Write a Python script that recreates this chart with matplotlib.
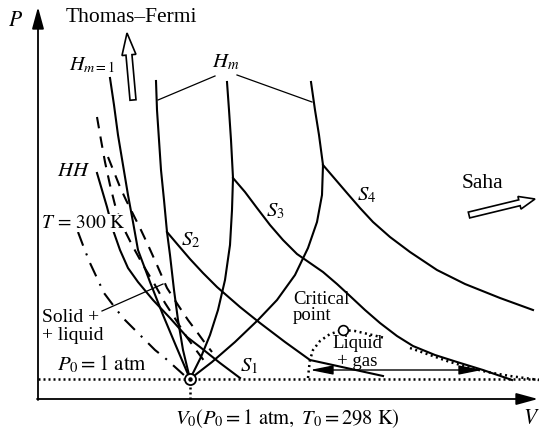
import numpy as np
import matplotlib
matplotlib.use("Agg")
import matplotlib.pyplot as plt
from matplotlib.patches import FancyArrow, ArrowStyle

plt.rcParams['font.family'] = ['Liberation Serif', 'DejaVu Serif']
plt.rcParams['mathtext.fontset'] = 'stix'

# ---- schematic data (V, P in arbitrary units) ----
V0, P0 = 152, 20

h_m1_V = [72, 76, 80, 85, 90, 95, 100, 112, 125, 138, 152]
h_m1_P = [321, 294, 264, 234, 204, 177, 149, 117, 84, 53, 20]

hh_V = [59, 64, 69, 75, 82, 90, 100, 115, 132, 149, 162, 182, 202]
hh_P = [226, 209, 192, 169, 149, 131, 117, 99, 81, 62, 52, 36, 21]

melt_left_V = [59, 63, 67, 72, 77, 84, 94, 105, 117, 127, 138, 148, 158, 167]
melt_left_P = [282, 259, 237, 214, 194, 174, 154, 134, 114, 96, 79, 63, 49, 37]
melt_right_V = [70, 76, 82, 88, 94, 102, 110, 119, 129, 140, 150, 159, 167, 174]
melt_right_P = [242, 227, 212, 199, 187, 171, 154, 134, 111, 94, 79, 67, 56, 47]

iso300_V = [40, 46, 52, 59, 66, 75, 85, 95, 107, 117, 127, 137, 147]
iso300_P = [167, 151, 136, 121, 106, 94, 81, 71, 59, 49, 41, 32, 23]

hm2_V = [118, 119, 121, 123, 126, 129, 132, 136, 140, 145, 152]
hm2_P = [318, 289, 259, 229, 199, 167, 144, 109, 79, 49, 20]

hm3_V = [189, 191, 193, 195, 194, 192, 187, 180, 172, 163, 152]
hm3_P = [317, 289, 259, 221, 189, 154, 119, 89, 64, 42, 20]

hm4_V = [273, 277, 281, 285, 284, 279, 270, 257, 239, 220, 197, 174, 152]
hm4_P = [317, 289, 264, 234, 204, 177, 151, 124, 99, 79, 57, 37, 20]

s2_V = [129, 140, 152, 165, 179, 202, 222, 247, 272, 345]
s2_P = [167, 154, 140, 126, 112, 92, 76, 57, 39, 23]

s3_V = [195, 207, 219, 232, 245, 259, 272, 285, 299, 312, 327, 342, 359, 375, 397, 419, 445, 474]
s3_P = [221, 207, 191, 174, 159, 145, 136, 127, 115, 103, 89, 76, 63, 53, 44, 37, 29, 19]

s4_V = [285, 297, 309, 322, 335, 352, 372, 399, 427, 462, 495]
s4_P = [234, 220, 206, 191, 177, 162, 147, 129, 115, 101, 89]

dome_V = [270, 271, 272, 275, 282, 292, 305, 317, 330, 347]
dome_P = [21, 31, 39, 49, 58, 65, 69, 68, 65, 61]
binodal_right_V = [372, 392, 409, 429, 449, 472, 501]
binodal_right_P = [51, 44, 38, 32, 27, 23, 19]
crit_V, crit_P = 305, 69

fig = plt.figure(figsize=(5.39, 4.32), dpi=100)
ax = fig.add_axes([0, 0, 1, 1])
ax.set_xlim(-38, 501)
ax.set_ylim(-33, 399)
ax.axis('off')

lw = 1.5
k = 'black'
# axes arrows
ax.annotate('', xy=(0, 392), xytext=(0, -1),
            arrowprops=dict(arrowstyle=ArrowStyle('-|>', head_length=1.1, head_width=0.3),
                            lw=1.3, color=k, mutation_scale=12, shrinkA=0, shrinkB=0))
ax.annotate('', xy=(500, 0), xytext=(-1, 0),
            arrowprops=dict(arrowstyle=ArrowStyle('-|>', head_length=1.1, head_width=0.3),
                            lw=1.3, color=k, mutation_scale=12, shrinkA=0, shrinkB=0))

# P0 dotted line and V0 drop
ax.plot([0, 501], [P0, P0], color=k, lw=1.8, ls=(0, (0.8, 1.2)), dash_capstyle='butt')
ax.plot([V0, V0], [0, P0], color=k, lw=1.8, ls=(0, (0.8, 1.2)), dash_capstyle='butt')

# curves
for Vs, Ps in [(h_m1_V, h_m1_P), (hh_V, hh_P), (hm2_V, hm2_P), (hm3_V, hm3_P),
               (hm4_V, hm4_P), (s2_V, s2_P), (s3_V, s3_P), (s4_V, s4_P)]:
    ax.plot(Vs, Ps, color=k, lw=lw, solid_joinstyle='round')
ax.plot(melt_left_V, melt_left_P, color=k, lw=lw, ls=(0, (5.5, 4)))
ax.plot(melt_right_V, melt_right_P, color=k, lw=lw, ls=(0, (5.5, 4)))
ax.plot(iso300_V, iso300_P, color=k, lw=lw, ls=(0, (7, 4, 1, 4)))
ax.plot(dome_V, dome_P, color=k, lw=1.8, ls=(0, (0.8, 1.4)), dash_capstyle='butt')
ax.plot(binodal_right_V, binodal_right_P, color=k, lw=1.8, ls=(0, (0.8, 1.4)), dash_capstyle='butt')

# leader lines
ax.plot([120, 177], [299, 323], color=k, lw=0.9)
ax.plot([199, 274], [324, 297], color=k, lw=0.9)
ax.plot([64, 125], [88, 115], color=k, lw=0.9)

# liquid+gas double arrow
ax.annotate('', xy=(444, 29), xytext=(272, 29),
            arrowprops=dict(arrowstyle=ArrowStyle('<|-|>', head_length=1.0, head_width=0.2),
                            lw=1.0, color=k, mutation_scale=14, shrinkA=0, shrinkB=0))

# markers
ax.plot([V0], [P0], marker='o', ms=8, mfc='white', mec=k, mew=1.3, zorder=5)
ax.plot([V0], [P0], marker='o', ms=2.2, mfc=k, mec=k, zorder=6)
ax.plot([crit_V], [crit_P], marker='o', ms=7, mfc='white', mec=k, mew=1.2, zorder=5)

# hollow arrows
ax.add_patch(FancyArrow(95, 299, -6, 67, width=6, head_width=14, head_length=22,
                        length_includes_head=True, fc='white', ec=k, lw=1.2))
ax.add_patch(FancyArrow(431, 184, 66, 16, width=6, head_width=13, head_length=16,
                        length_includes_head=True, fc='white', ec=k, lw=1.2))

# texts
ax.text(-22, 377, r'$P$', fontsize=15.5, ha='center', va='center')
ax.text(493, -20, r'$V$', fontsize=15.5, ha='center', va='center')
ax.text(93, 381, 'Thomas–Fermi', fontsize=15.5, ha='center', va='center')
ax.text(444, 216, 'Saha', fontsize=15.5, ha='center', va='center')
ax.text(54, 334, r'$H_{m=1}$', fontsize=14.5, ha='center', va='center')
ax.text(188, 337, r'$H_m$', fontsize=15, ha='center', va='center')
ax.text(36, 228, r'$HH$', fontsize=15, ha='center', va='center')
ax.text(45, 176, r'$T\,=\,300\ \mathrm{K}$', fontsize=14, ha='center', va='center',
        bbox=dict(fc='white', ec='none', pad=0.5), zorder=4)
ax.text(4, 81, 'Solid +', fontsize=14, ha='left', va='center')
ax.text(4, 63, '+ liquid', fontsize=14, ha='left', va='center')
ax.text(64, 35, r'$P_0 = 1\ \mathrm{atm}$', fontsize=15, ha='center', va='center')
ax.text(211, 33, r'$S_1$', fontsize=15, ha='center', va='center')
ax.text(153, 159, r'$S_2$', fontsize=15, ha='center', va='center')
ax.text(237, 188, r'$S_3$', fontsize=15, ha='center', va='center')
ax.text(329, 204, r'$S_4$', fontsize=15, ha='center', va='center')
ax.text(255, 99, 'Critical', fontsize=13.5, ha='left', va='center')
ax.text(255, 83, 'point', fontsize=13.5, ha='left', va='center')
ax.text(319, 56, 'Liquid', fontsize=13.5, ha='center', va='center')
ax.text(319, 38, '+ gas', fontsize=13.5, ha='center', va='center')
ax.text(249, -20, r'$V_0(P_0 = 1\ \mathrm{atm},\ T_0 = 298\ \mathrm{K})$', fontsize=14.8,
        ha='center', va='center')

fig.savefig('out.png', dpi=100)
